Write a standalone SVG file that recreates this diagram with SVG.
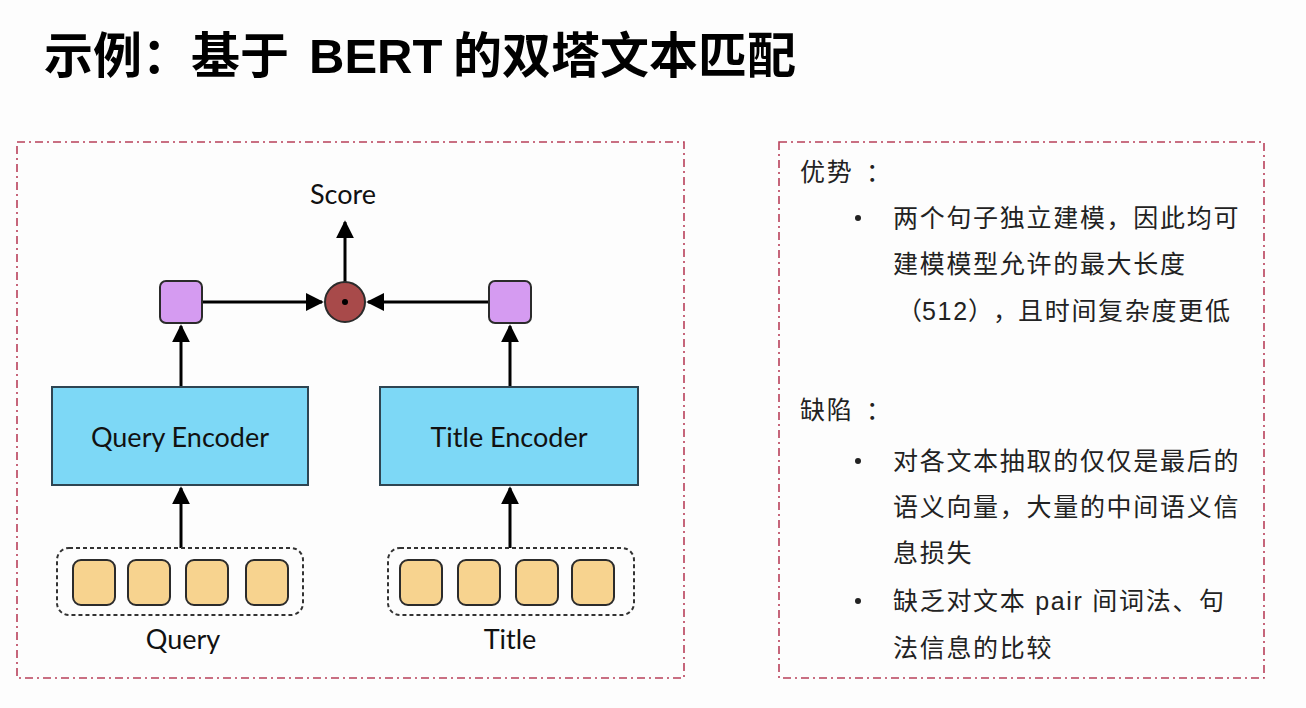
<svg xmlns="http://www.w3.org/2000/svg" width="1306" height="708" viewBox="0 0 1306 708">
<defs>
<marker id="ah" viewBox="0 0 10 10" refX="9" refY="5" markerWidth="6" markerHeight="6" orient="auto" markerUnits="strokeWidth">
<path d="M0,0 L10,5 L0,10 z" fill="#000"/>
</marker>
<style>
.frame{fill:none;stroke:#b8405a;stroke-width:1.6;stroke-dasharray:8 4 2 4}
.enc{fill:#7dd8f6;stroke:#2e4552;stroke-width:2}
.vec{fill:#d59bf1;stroke:#2b2b2b;stroke-width:2}
.tok{fill:#f7d38f;stroke:#2b2b2b;stroke-width:2}
.grp{fill:none;stroke:#333;stroke-width:2;stroke-dasharray:4 3}
.dlab{font-family:Lato,"Open Sans",sans-serif;font-size:27px;fill:#111;text-anchor:middle}
.cjk{font-family:"Liberation Sans","Noto Sans CJK SC",sans-serif;font-size:25px;fill:#222;letter-spacing:1.7px}
.conn line{stroke:#000;stroke-width:3;marker-end:url(#ah)}
</style>
</defs>
<rect width="1306" height="708" fill="#fdfdfd"/>
<text y="73" font-family="'Liberation Sans','Noto Sans CJK SC',sans-serif" font-size="49" font-weight="bold" fill="#000"><tspan x="44">示例：基于</tspan><tspan x="309">BERT</tspan><tspan x="453">的双塔文本匹配</tspan></text>
<rect class="frame" x="17" y="142" width="667" height="536"/>
<rect class="frame" x="779" y="142" width="485" height="536"/>
<g id="connectors" class="conn">
<line x1="345" y1="282" x2="345" y2="222"/>
<line x1="202" y1="302" x2="322" y2="302"/>
<line x1="489" y1="302" x2="368" y2="302"/>
<line x1="181" y1="387" x2="181" y2="326"/>
<line x1="510" y1="387" x2="510" y2="326"/>
<line x1="181" y1="548" x2="181" y2="488"/>
<line x1="510" y1="548" x2="510" y2="488"/>
</g>
<g id="score"><text class="dlab" x="343" y="204">Score</text></g>
<g id="dot"><circle cx="345" cy="302" r="20" fill="#a84a4a" stroke="#2b2b2b" stroke-width="2"/><circle cx="345" cy="302" r="3" fill="#000"/></g>
<g id="qvec"><rect class="vec" x="160" y="281" width="42" height="42" rx="6"/></g>
<g id="tvec"><rect class="vec" x="489" y="281" width="42" height="42" rx="6"/></g>
<g id="qenc"><rect class="enc" x="52" y="387" width="256" height="98"/><text class="dlab" x="180" y="447">Query Encoder</text></g>
<g id="tenc"><rect class="enc" x="380" y="387" width="258" height="98"/><text class="dlab" x="509" y="447">Title Encoder</text></g>
<g id="query">
<rect class="grp" x="57" y="548" width="246" height="67" rx="12"/>
<rect class="tok" x="73" y="560" width="42" height="45" rx="8"/>
<rect class="tok" x="128" y="560" width="42" height="45" rx="8"/>
<rect class="tok" x="186" y="560" width="42" height="45" rx="8"/>
<rect class="tok" x="246" y="560" width="42" height="45" rx="8"/>
<text class="dlab" x="183" y="649">Query</text>
</g>
<g id="title">
<rect class="grp" x="388" y="548" width="246" height="67" rx="12"/>
<rect class="tok" x="400" y="560" width="42" height="45" rx="8"/>
<rect class="tok" x="458" y="560" width="42" height="45" rx="8"/>
<rect class="tok" x="516" y="560" width="42" height="45" rx="8"/>
<rect class="tok" x="572" y="560" width="42" height="45" rx="8"/>
<text class="dlab" x="510" y="649">Title</text>
</g>
<g id="notes">
<text class="cjk" y="181"><tspan x="800">优势</tspan><tspan x="866">：</tspan></text>
<circle cx="858" cy="218" r="3" fill="#222"/>
<text class="cjk" x="893" y="227">两个句子独立建模，因此均可</text>
<text class="cjk" x="893" y="273">建模模型允许的最大长度</text>
<text class="cjk" y="320"><tspan x="897">（</tspan><tspan x="922">512</tspan><tspan x="968">）</tspan><tspan x="993">，</tspan><tspan x="1018">且时间复杂度更低</tspan></text>
<text class="cjk" y="419"><tspan x="800">缺陷</tspan><tspan x="866">：</tspan></text>
<circle cx="858" cy="461" r="3" fill="#222"/>
<text class="cjk" x="893" y="470">对各文本抽取的仅仅是最后的</text>
<text class="cjk" x="893" y="516">语义向量，大量的中间语义信</text>
<text class="cjk" x="893" y="562">息损失</text>
<circle cx="858" cy="601" r="3" fill="#222"/>
<text class="cjk" x="893" y="610">缺乏对文本 pair 间词法、句</text>
<text class="cjk" x="893" y="657">法信息的比较</text>
</g>
</svg>
